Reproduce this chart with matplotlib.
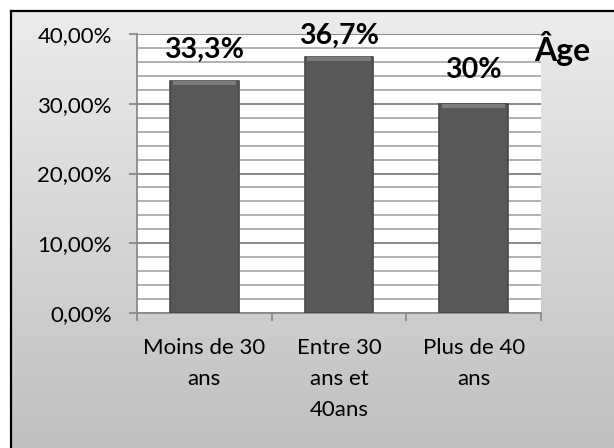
import numpy as np
import matplotlib
matplotlib.use("Agg")
import matplotlib.pyplot as plt
from matplotlib.ticker import MultipleLocator, FuncFormatter

categories = ["Moins de 30\nans", "Entre 30\nans et\n40ans", "Plus de 40\nans"]
values = [33.3, 36.7, 30.0]
value_labels = ["33,3%", "36,7%", "30%"]
label_offsets = [22, 15, 24]  # points above bar top
title = "Âge"

plt.rcParams['font.family'] = ['Lato', 'DejaVu Sans']

fig = plt.figure(figsize=(6.14, 4.48), dpi=100)

# framed background with vertical gradient
bg = fig.add_axes([11 / 614, 0, 1 - 11 / 614, 1 - 11 / 448])
grad = np.linspace(0, 1, 256).reshape(-1, 1)
bg.imshow(grad, aspect='auto', cmap=matplotlib.colors.LinearSegmentedColormap.from_list(
    'bg', ['#ececec', '#c0c0c0']), extent=[0, 1, 0, 1], origin='upper')
bg.set_xlim(0, 1)
bg.set_ylim(0, 1)
bg.set_xticks([])
bg.set_yticks([])
for s in ['right', 'bottom']:
    bg.spines[s].set_visible(False)
for s in ['left', 'top']:
    bg.spines[s].set_linewidth(1.6)
    bg.spines[s].set_color('black')

ax = fig.add_axes([137 / 614, 1 - 313 / 448, (541 - 137) / 614, (313 - 34) / 448])
ax.set_facecolor('white')
x = np.arange(len(categories))
bars = ax.bar(x, values, width=0.51, color='#585858', edgecolor='#484848',
              linewidth=1.2, zorder=3)
# light bevel at the top of each bar
ax.bar(x, [0.6] * len(values), bottom=[v - 0.6 for v in values], width=0.47,
       color='#7c7c7c', linewidth=0, zorder=4)

ax.set_xlim(-0.5, len(categories) - 0.5)
ax.set_ylim(0, 40)
ax.yaxis.set_major_locator(MultipleLocator(10))
ax.yaxis.set_minor_locator(MultipleLocator(2))
ax.yaxis.set_major_formatter(FuncFormatter(lambda v, p: f"{v:.2f}".replace('.', ',') + "%"))
ax.grid(which='minor', axis='y', color='#b0b0b0', linewidth=1.4, zorder=1)
ax.grid(which='major', axis='y', color='#888888', linewidth=1.4, zorder=1)
ax.tick_params(axis='y', which='major', length=6, width=1.3, color='#8a8a8a',
               labelsize=16, pad=12)
ax.tick_params(axis='y', which='minor', length=0)

ax.set_xticks(np.arange(-0.5, len(categories), 1.0))
ax.set_xticklabels([])
ax.set_xticks(x, minor=True)
ax.set_xticklabels(categories, minor=True)
ax.tick_params(axis='x', which='major', length=6, width=1.3, color='#8a8a8a')
ax.tick_params(axis='x', which='minor', length=0, labelsize=16, pad=18)
for lab in ax.get_xticklabels(minor=True):
    lab.set_linespacing(1.68)
    lab.set_verticalalignment('top')

for s in ['top', 'right']:
    ax.spines[s].set_visible(False)
for s in ['left', 'bottom']:
    ax.spines[s].set_color('#8a8a8a')
    ax.spines[s].set_linewidth(1.3)

for xi, v, lab, off in zip(x, values, value_labels, label_offsets):
    ax.annotate(lab, (xi, v), xytext=(0, off), textcoords='offset points',
                ha='center', va='center', fontsize=20.5, fontweight='bold',
                annotation_clip=False, zorder=5)

fig.text(562 / 614, 1 - 48 / 448, title, ha='center', va='center',
         fontsize=23, fontweight='bold')

fig.savefig("out.png", dpi=100, facecolor='white')
